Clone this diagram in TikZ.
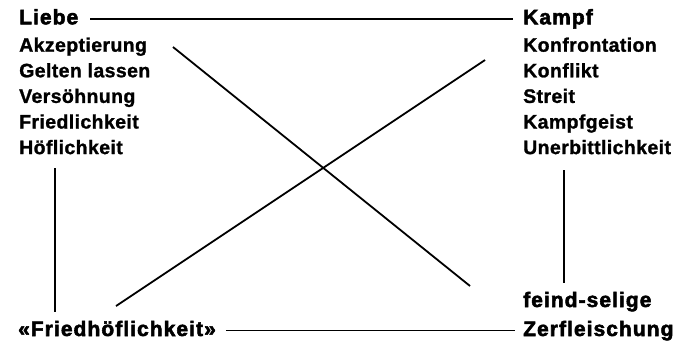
\documentclass[tikz,border=0pt]{standalone}
\usepackage{fontspec}
\setmainfont{Liberation Sans}
\newfontfamily\headfont{Liberation Sans}[LetterSpace=5, BoldFeatures={FakeBold=2.5}]
\newfontfamily\entryfont{Liberation Sans}[LetterSpace=2, BoldFeatures={FakeBold=1.2}]
\usepackage{tikz}

\tikzset{
  head/.style={anchor=base west, inner sep=0pt, font=\headfont\bfseries\fontsize{21}{29}\selectfont},
  entry/.style={anchor=base west, inner sep=0pt, font=\entryfont\bfseries\fontsize{19.5}{25.6}\selectfont},
  link/.style={line width=1.8pt}
}

\begin{document}
\begin{tikzpicture}[x=1pt, y=-1pt]
    \useasboundingbox (0,0) rectangle (691,348);

    % Liebe column
    \node[head]  (liebe)  at (19,24.3)  {Liebe};
    \node[entry] (akz)    at (19,51.7)  {Akzeptierung};
    \node[entry] (gelten) at (19,77.3)  {Gelten lassen};
    \node[entry] (versoe) at (19,102.9) {Versöhnung};
    \node[entry] (fried)  at (19,128.5) {Friedlichkeit};
    \node[entry] (hoefl)  at (19,154.1) {Höflichkeit};

    % Kampf column
    \node[head]  (kampf)  at (523,24.3)  {Kampf};
    \node[entry] (konfr)  at (523,51.7)  {Konfrontation};
    \node[entry] (konfl)  at (523,77.3)  {Konflikt};
    \node[entry] (streit) at (523,102.9) {Streit};
    \node[entry] (geist)  at (523,128.5) {Kampfgeist};
    \node[entry] (unerb)  at (523,154.1) {Unerbittlichkeit};

    % Results
    \node[head] (friedhoefl) at (18,336)  {«Friedhöflichkeit»};
    \node[head] (feind)      at (523,307) {feind-selige};
    \node[head] (zerfl)      at (523,336) {Zerfleischung};

    % Horizontal links
    \draw[link] ([xshift=12pt,yshift=5pt]liebe.base east) -- ([xshift=-10pt,yshift=5pt]kampf.base west);
    \draw[link] ([xshift=10pt,yshift=5.5pt]friedhoefl.base east) -- ([xshift=-8pt,yshift=5.5pt]zerfl.base west);

    % Vertical links
    \draw[link] ([xshift=36pt,yshift=-14pt]hoefl.base west) -- ([xshift=37pt,yshift=24pt]friedhoefl.base west);
    \draw[link] ([xshift=41pt,yshift=-16pt]unerb.base west) -- ([xshift=41pt,yshift=24pt]feind.base west);

    % Crossing links
    \draw[link] ([xshift=154pt,yshift=4.7pt]akz.base west) -- ([xshift=-53pt,yshift=21pt]feind.base west);
    \draw[link] ([xshift=98pt,yshift=30pt]friedhoefl.base west) -- ([xshift=-38pt,yshift=-8.3pt]konfr.base west);
\end{tikzpicture}
\end{document}
